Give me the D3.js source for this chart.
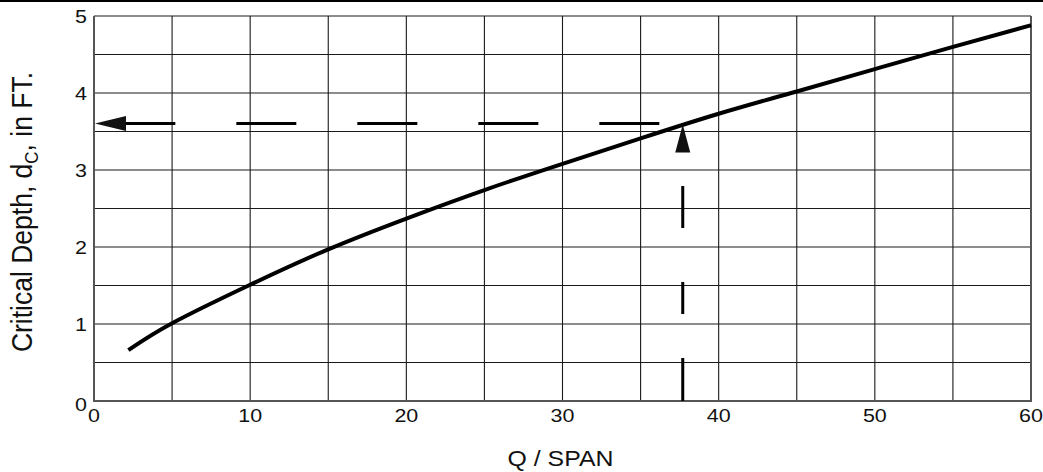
<!DOCTYPE html>
<html>
<head>
<meta charset="utf-8">
<script src="https://cdn.jsdelivr.net/npm/d3@7"></script>
<style>
  html, body { margin: 0; padding: 0; background: #fff; }
  svg { display: block; }
  text { font-family: "Liberation Sans", Arial, Helvetica, sans-serif; fill: #111; }
</style>
</head>
<body>
<svg id="chart" width="1043" height="472"></svg>
<script>
// ---- data ----
const qValues  = [2.2, 5, 10, 15, 20, 25, 30, 35, 40, 45, 50, 55, 60];
const dcValues = [0.66, 1.01, 1.51, 1.97, 2.37, 2.74, 3.08, 3.41, 3.73, 4.02, 4.31, 4.60, 4.88];
const xTickLabels = [0, 10, 20, 30, 40, 50, 60];
const yTickLabels = [0, 1, 2, 3, 4, 5];
const xGrid = [0, 5, 10, 15, 20, 25, 30, 35, 40, 45, 50, 55, 60];
const yGrid = [0, 0.5, 1, 1.5, 2, 2.5, 3, 3.5, 4, 4.5, 5];
// example read-off: Q/span = 37.7 -> dc = 3.59
const exampleQ = [37.7];
const exampleDc = [3.59];
const hLineStartQ = [36.2];
const xTitle = "Q / SPAN";

// ---- layout ----
const W = 1043, H = 472;
const margin = {left: 94, right: 12, top: 16, bottom: 71};
const x = d3.scaleLinear().domain([0, 60]).range([margin.left, W - margin.right]);
const y = d3.scaleLinear().domain([0, 5]).range([H - margin.bottom, margin.top]);
const SX = 1.13; // horizontal stretch of the lettering

const svg = d3.select("#chart");

// top rule across the page
svg.append("rect").attr("x", 0).attr("y", 0).attr("width", W).attr("height", 2).attr("fill", "#000");

// grid
const g = svg.append("g");
g.selectAll("line.vg").data(xGrid.slice(1, -1)).join("line")
  .attr("x1", d => x(d)).attr("x2", d => x(d))
  .attr("y1", y(0)).attr("y2", y(5))
  .attr("stroke", "#1a1a1a").attr("stroke-width", 1.1);
g.selectAll("line.hg").data(yGrid.slice(1)).join("line")
  .attr("x1", x(0)).attr("x2", x(60))
  .attr("y1", d => y(d)).attr("y2", d => y(d))
  .attr("stroke", "#1a1a1a").attr("stroke-width", 1.1);
// frame (left, bottom, right)
g.append("path")
  .attr("d", `M${x(0)},${y(5)}V${y(0)}H${x(60)}V${y(5)}`)
  .attr("fill", "none").attr("stroke", "#555").attr("stroke-width", 2);

// tick labels
svg.selectAll("text.xt").data(xTickLabels).join("text")
  .attr("class", "xt")
  .attr("transform", d => `translate(${x(d)},${y(0) + 21}) scale(${SX},1)`)
  .attr("text-anchor", "middle")
  .style("font-size", "19px")
  .text(d => d);
svg.selectAll("text.yt").data(yTickLabels).join("text")
  .attr("class", "yt")
  .attr("transform", d => `translate(${x(0) - 7},${y(d) + (d === 0 ? 10 : 7)}) scale(${SX},1)`)
  .attr("text-anchor", "end")
  .style("font-size", "19px")
  .text(d => d);

// axis titles
svg.append("text")
  .attr("transform", `translate(${(x(0) + x(60)) / 2 - 2},${H - 6}) scale(${SX},1)`)
  .attr("text-anchor", "middle")
  .style("font-size", "22px")
  .text(xTitle);

const yl = svg.append("text")
  .attr("transform", `translate(32,212) scale(${SX},1) rotate(-90)`)
  .attr("text-anchor", "middle")
  .style("font-size", "26.5px");
yl.append("tspan").text("Critical Depth, d");
yl.append("tspan").attr("dy", 5).style("font-size", "17px").text("C");
yl.append("tspan").attr("dy", -5).text(", in FT.");

// curve
const pts = qValues.map((q, i) => [q, dcValues[i]]);
svg.append("path")
  .datum(pts)
  .attr("fill", "none")
  .attr("stroke", "#000")
  .attr("stroke-width", 4)
  .attr("stroke-linecap", "butt")
  .attr("d", d3.line().x(d => x(d[0])).y(d => y(d[1])).curve(d3.curveNatural));

// example: vertical dashed line up to the curve with an arrowhead
const ex = x(exampleQ[0]), ey = y(exampleDc[0]);
const headLen = 28, headHalf = 7.5;
svg.append("path")
  .attr("d", `M${ex},${y(0)}V${ey + headLen}`)
  .attr("stroke", "#000").attr("stroke-width", 3).attr("fill", "none")
  .attr("stroke-dasharray", "43,44,32,54,42,300");
svg.append("path")
  .attr("d", `M${ex},${ey}L${ex - headHalf},${ey + headLen}L${ex + headHalf},${ey + headLen}Z`)
  .attr("fill", "#111");

// horizontal dashed line to the depth axis with an arrowhead
const hx0 = x(0) + 1, hy = ey - 1;
svg.append("path")
  .attr("d", `M${x(hLineStartQ[0])},${hy}H${hx0 + 30}`)
  .attr("stroke", "#000").attr("stroke-width", 3).attr("fill", "none")
  .attr("stroke-dasharray", "60,61");
svg.append("path")
  .attr("d", `M${hx0},${hy}L${hx0 + 31},${hy - headHalf}L${hx0 + 31},${hy + headHalf}Z`)
  .attr("fill", "#111");
</script>
</body>
</html>
